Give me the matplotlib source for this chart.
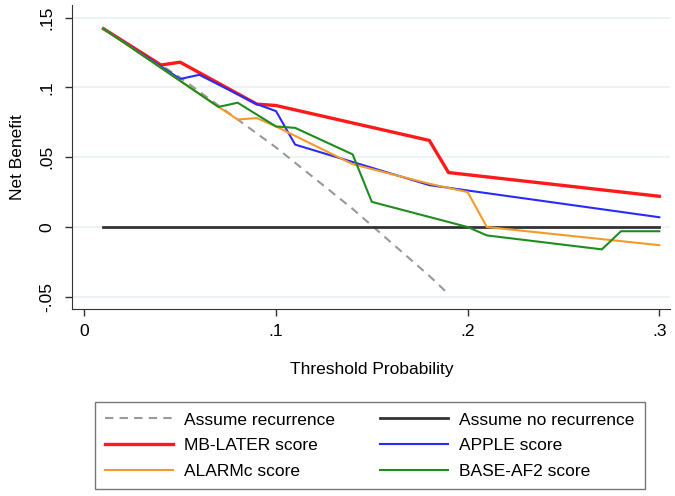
import numpy as np
import matplotlib.pyplot as plt

plt.rcParams['font.family'] = ['Liberation Sans', 'DejaVu Sans']

# threshold probabilities and net benefit values
all_x = [0.01, 0.02, 0.03, 0.04, 0.05, 0.06, 0.07, 0.08, 0.09, 0.10,
         0.11, 0.12, 0.13, 0.14, 0.15, 0.16, 0.17, 0.18, 0.19]
all_y = [0.142, 0.133, 0.125, 0.116, 0.107, 0.097, 0.087, 0.077, 0.067, 0.057,
         0.046, 0.035, 0.024, 0.013, 0.001, -0.011, -0.023, -0.035, -0.048]

none_x = [0.01, 0.30]
none_y = [0.0, 0.0]

mb_x = [0.01, 0.04, 0.05, 0.09, 0.10, 0.18, 0.19, 0.30]
mb_y = [0.142, 0.116, 0.118, 0.088, 0.087, 0.062, 0.039, 0.022]

apple_x = [0.01, 0.05, 0.06, 0.09, 0.10, 0.11, 0.18, 0.30]
apple_y = [0.142, 0.106, 0.109, 0.088, 0.083, 0.059, 0.030, 0.007]

alarm_x = [0.01, 0.07, 0.08, 0.09, 0.10, 0.14, 0.18, 0.20, 0.21, 0.30]
alarm_y = [0.142, 0.086, 0.077, 0.078, 0.072, 0.045, 0.031, 0.025, 0.000, -0.013]

base_x = [0.01, 0.07, 0.08, 0.10, 0.11, 0.14, 0.15, 0.20, 0.21, 0.27, 0.28, 0.30]
base_y = [0.142, 0.086, 0.089, 0.072, 0.071, 0.052, 0.018, 0.000, -0.006, -0.016, -0.003, -0.003]

xticks = [0, 0.1, 0.2, 0.3]
xtick_labels = ['0', '.1', '.2', '.3']
yticks = [-0.05, 0, 0.05, 0.1, 0.15]
ytick_labels = ['-.05', '0', '.05', '.1', '.15']

fig = plt.figure(figsize=(6.75, 4.96), dpi=100)
ax = fig.add_axes([0.107, 0.377, 0.886, 0.613])

for yt in yticks:
    ax.axhline(yt, color='#eaf1f3', linewidth=1.2, zorder=0)

h_all, = ax.plot(all_x, all_y, color='#999999', linestyle=(0, (4, 3)), linewidth=1.5,
                 label='Assume recurrence')
h_none, = ax.plot(none_x, none_y, color='#333333', linewidth=2, label='Assume no recurrence')
h_mb, = ax.plot(mb_x, mb_y, color='#ff1a1a', linewidth=2.4, label='MB-LATER score')
h_apple, = ax.plot(apple_x, apple_y, color='#2a2aff', linewidth=1.5, label='APPLE score')
h_alarm, = ax.plot(alarm_x, alarm_y, color='#f39a2b', linewidth=1.5, label='ALARMc score')
h_base, = ax.plot(base_x, base_y, color='#1e8c1e', linewidth=1.5, label='BASE-AF2 score')

ax.set_xlim(-0.0063, 0.3057)
ax.set_ylim(-0.0587, 0.159)
ax.set_xticks(xticks)
ax.set_xticklabels(xtick_labels)
ax.set_yticks(yticks)
ax.set_yticklabels(ytick_labels, rotation=90, va='center')
ax.tick_params(labelsize=12.5, length=5, width=1, color='#333333')
ax.tick_params(axis='y', pad=8)
ax.tick_params(axis='x', pad=6)
ax.spines['top'].set_visible(False)
ax.spines['right'].set_visible(False)
ax.spines['left'].set_color('#333333')
ax.spines['bottom'].set_color('#333333')
ax.set_xlabel('Threshold Probability', fontsize=12.5, labelpad=16)
ax.set_ylabel('Net Benefit', fontsize=12.5, labelpad=10)

handles = [h_all, h_mb, h_alarm, h_none, h_apple, h_base]
leg = fig.legend(handles=handles, labels=[h.get_label() for h in handles],
                 ncol=2, loc='lower center', bbox_to_anchor=(0.548, 0.014),
                 borderaxespad=0,
                 fontsize=12.5, frameon=True, fancybox=False, edgecolor='#555555',
                 handlelength=3.9, columnspacing=2.6, borderpad=0.6, labelspacing=0.6,
                 handletextpad=0.65)
leg.get_frame().set_linewidth(1)

fig.savefig('out.png', dpi=100)
